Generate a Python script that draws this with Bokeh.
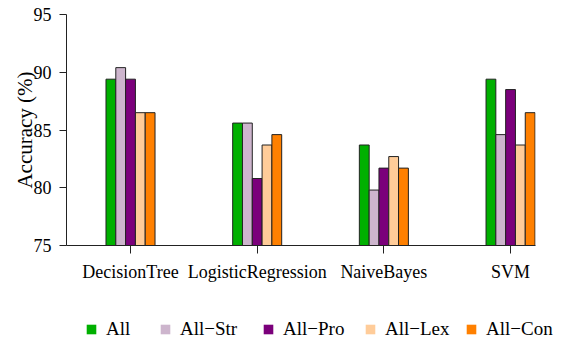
from bokeh.plotting import figure
from bokeh.layouts import column
from bokeh.models import ColumnDataSource, Range1d, FixedTicker, Legend, LegendItem
from bokeh.embed import file_html
from bokeh.resources import INLINE

categories = ["DecisionTree", "LogisticRegression", "NaiveBayes", "SVM"]
series_names = ["All", "All\u2212Str", "All\u2212Pro", "All\u2212Lex", "All\u2212Con"]
acc_all = [89.4, 85.6, 83.7, 89.4]
acc_str = [90.4, 85.6, 79.8, 84.6]
acc_pro = [89.4, 80.8, 81.7, 88.5]
acc_lex = [86.5, 83.7, 82.7, 83.7]
acc_con = [86.5, 84.6, 81.7, 86.5]
y_ticks = [75, 80, 85, 90, 95]

colors = ["#00B000", "#CDB5CD", "#7B007B", "#FFCC99", "#FF8000"]
series = [acc_all, acc_str, acc_pro, acc_lex, acc_con]

FONT = "Liberation Serif"

p = figure(width=568, height=312, output_backend="svg", toolbar_location=None,
           x_range=Range1d(0.4947, 4.197), y_range=Range1d(75, 95),
           min_border_left=66, min_border_right=33, min_border_top=14, min_border_bottom=67)
p.frame_align = False
p.outline_line_color = None
p.xgrid.visible = False
p.ygrid.visible = False

bw = 0.0774
xs = [i + 1 for i in range(len(categories))]
for k, (vals, col) in enumerate(zip(series, colors)):
    off = (k - 2) * bw
    src = ColumnDataSource(dict(x=[x + off for x in xs], top=vals))
    p.vbar(x="x", top="top", bottom=75, width=bw, source=src,
           fill_color=col, line_color="#222222", line_width=1)

# axes
p.xaxis.ticker = FixedTicker(ticks=xs)
p.xaxis.major_label_overrides = {x: c for x, c in zip(xs, categories)}
p.xaxis.major_tick_out = 8
p.xaxis.major_tick_in = 0
p.xaxis.minor_tick_line_color = None
p.xaxis.major_label_standoff = 8
p.xaxis.major_label_text_font = FONT
p.xaxis.major_label_text_font_size = "18px"
p.xaxis.major_label_text_color = "black"
p.xaxis.axis_line_color = "#222222"
p.xaxis.major_tick_line_color = "#222222"

p.yaxis.ticker = FixedTicker(ticks=y_ticks)
p.yaxis.major_tick_out = 7
p.yaxis.major_tick_in = 0
p.yaxis.minor_tick_line_color = None
p.yaxis.major_label_standoff = 8
p.yaxis.major_label_text_font = FONT
p.yaxis.major_label_text_font_size = "18px"
p.yaxis.major_label_text_color = "black"
p.yaxis.axis_line_color = "#222222"
p.yaxis.major_tick_line_color = "#222222"
p.yaxis.axis_label = "Accuracy (%)"
p.yaxis.axis_label_text_font = FONT
p.yaxis.axis_label_text_font_size = "21px"
p.yaxis.axis_label_text_font_style = "normal"
p.yaxis.axis_label_text_color = "black"
p.yaxis.axis_label_standoff = -6

# legend strip
lg = figure(width=568, height=28, output_backend="svg", toolbar_location=None,
            x_range=Range1d(0, 1), y_range=Range1d(0, 1),
            x_axis_location=None, y_axis_location=None,
            min_border=0, min_border_left=0, min_border_right=0,
            min_border_top=0, min_border_bottom=0)
lg.frame_align = False
lg.outline_line_color = None
lg.xgrid.visible = False
lg.ygrid.visible = False

legend_x = [85, 159, 262, 364, 465]
for name, col, lx in zip(series_names, colors, legend_x):
    r = lg.vbar(x=[0.5], top=[0], bottom=[0], width=0.0, fill_color=col, line_color=None)
    leg = Legend(items=[LegendItem(label=name, renderers=[r])], location=(lx, 0),
                 glyph_width=12, glyph_height=12, label_standoff=9,
                 label_text_font=FONT, label_text_font_size="19px", label_height=20,
                 label_text_color="black",
                 border_line_color=None, background_fill_alpha=0, padding=0, margin=0)
    lg.add_layout(leg, "center")

open("out.html", "w").write(file_html(column(p, lg, spacing=0), INLINE))
